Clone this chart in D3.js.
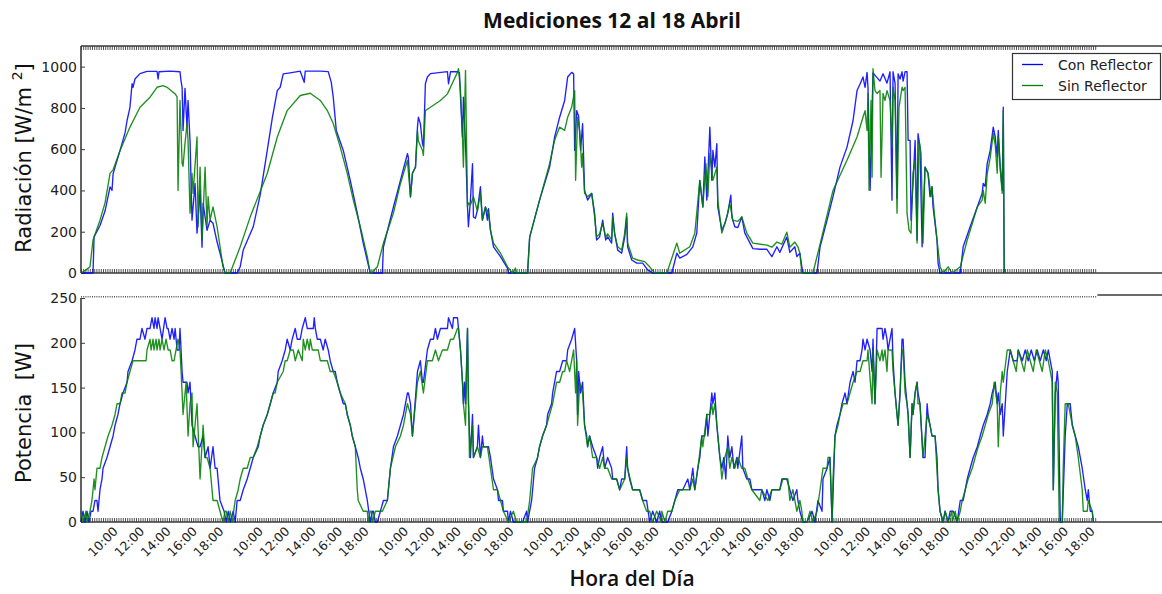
<!DOCTYPE html>
<html><head><meta charset="utf-8">
<script src="https://cdn.jsdelivr.net/npm/d3@7"></script>
<style>body{margin:0;background:#fff;}svg{display:block;}</style>
</head><body>
<svg id="c" width="1162" height="594"></svg>
<script>
const chartTitle = "Mediciones 12 al 18 Abril";
const seriesNames = ["Con Reflector", "Sin Reflector"];
const xTitle = "Hora del Día";
const dayStartHour = 7.33;      // first sample of each day (local hour)
const dayLengthHours = 11;      // plotted hours per day
const nDays = 7;
const tickHours = [10, 12, 14, 16, 18];
const tickLabels = ["10:00", "12:00", "14:00", "16:00", "18:00"];
const radTicks = [0, 200, 400, 600, 800, 1000];
const potTicks = [0, 50, 100, 150, 200, 250];

// Radiación [W/m2] — [hora local, valor] por día
const radCon = [
 [[7.33,0],[8.24,0],[8.32,175],[8.77,230],[9.15,300],[9.53,417],[9.68,400],[9.76,480],[9.91,513],[10.29,594],[10.67,680],[10.82,739],[11.04,803],[11.20,917],[11.27,900],[11.42,940],[11.80,966],[12.33,977],[13.09,977],[13.17,940],[13.24,975],[14.08,978],[14.83,975],[14.91,930],[14.99,900],[15.06,690],[15.21,895],[15.36,707],[15.44,836],[15.59,642],[15.74,256],[15.97,434],[16.12,193],[16.35,400],[16.50,125],[16.58,338],[16.88,207],[17.11,256],[17.33,241],[17.64,150],[17.86,97],[18.24,0]],
 [[7.33,0],[8.16,0],[8.39,30],[8.62,111],[9.38,224],[9.91,380],[10.44,594],[10.82,750],[11.20,884],[11.42,900],[11.65,965],[12.18,970],[12.94,978],[13.24,924],[13.32,978],[14.46,978],[15.06,976],[15.29,924],[15.44,852],[15.67,691],[16.20,594],[16.73,449],[17.26,290],[17.71,145],[18.24,0]],
 [[7.33,0],[8.16,0],[8.24,126],[8.62,224],[9.00,320],[9.53,449],[10.06,578],[10.13,560],[10.29,369],[10.44,483],[10.67,513],[10.82,707],[10.89,755],[11.04,724],[11.20,627],[11.27,611],[11.42,917],[11.57,950],[11.80,966],[13.09,976],[13.17,917],[13.32,975],[13.85,976],[14.00,970],[14.08,852],[14.23,659],[14.30,852],[14.46,627],[14.61,320],[14.68,224],[14.83,353],[14.99,530],[15.06,272],[15.21,265],[15.36,305],[15.59,418],[15.74,256],[15.97,320],[16.12,256],[16.20,312],[16.35,208],[16.58,127],[17.11,79],[17.64,24],[17.71,0],[18.32,0]],
 [[7.33,0],[8.16,0],[8.32,174],[9.07,353],[9.83,513],[10.21,659],[10.59,755],[10.97,836],[11.20,950],[11.50,972],[11.65,965],[11.73,594],[11.88,787],[12.03,760],[12.18,594],[12.33,724],[12.48,400],[12.71,353],[13.02,386],[13.24,290],[13.39,160],[13.62,175],[13.85,256],[14.08,160],[14.23,175],[14.53,145],[14.61,290],[14.76,190],[14.99,111],[15.29,96],[15.52,174],[15.67,272],[15.74,127],[16.05,63],[16.43,48],[16.88,48],[17.26,15],[17.64,0],[18.32,0]],
 [[7.33,0],[8.09,0],[8.47,96],[8.69,72],[9.23,90],[9.68,127],[9.98,193],[10.21,449],[10.44,320],[10.59,562],[10.74,353],[10.97,707],[11.12,449],[11.20,594],[11.35,513],[11.50,627],[11.57,320],[11.88,208],[12.11,240],[12.33,290],[12.56,377],[12.64,270],[12.86,224],[13.09,220],[13.39,272],[13.62,193],[14.23,118],[14.76,115],[15.29,115],[15.67,79],[16.05,127],[16.27,100],[16.80,174],[17.03,100],[17.41,127],[17.56,80],[17.79,96],[17.94,30],[18.02,0],[18.32,0]],
 [[7.33,0],[8.09,0],[8.32,127],[8.85,256],[9.30,370],[9.83,513],[10.36,610],[10.82,739],[11.12,884],[11.35,916],[11.57,950],[11.73,900],[11.88,972],[11.95,900],[12.11,401],[12.33,970],[12.86,930],[13.09,965],[13.39,920],[13.62,975],[13.77,353],[13.85,975],[14.00,920],[14.15,362],[14.23,965],[14.38,940],[14.53,975],[14.61,930],[14.76,975],[14.91,975],[14.99,643],[15.14,643],[15.21,256],[15.36,434],[15.52,643],[15.67,160],[15.74,675],[15.89,610],[16.05,127],[16.27,513],[16.50,483],[16.65,370],[16.80,418],[16.88,320],[17.18,160],[17.26,48],[17.41,0],[18.32,0]],
 [[7.33,0],[7.94,0],[8.16,127],[8.69,224],[9.23,320],[9.60,386],[9.68,434],[9.83,420],[9.98,530],[10.21,594],[10.44,707],[10.59,659],[10.74,562],[10.82,691],[10.97,513],[11.12,401],[11.20,803],[11.27,0]]
];
const radSin = [
 [[7.33,0],[7.71,15],[8.01,30],[8.24,160],[8.77,256],[9.15,340],[9.53,483],[9.76,500],[10.29,594],[11.04,707],[11.80,803],[12.56,852],[13.09,900],[13.55,908],[13.85,900],[14.23,880],[14.46,868],[14.61,853],[14.68,400],[14.83,836],[14.99,531],[15.06,517],[15.21,628],[15.36,724],[15.44,642],[15.59,290],[15.74,483],[15.82,386],[16.12,659],[16.20,224],[16.35,513],[16.50,160],[16.73,513],[16.88,224],[16.96,370],[17.11,256],[17.33,320],[17.64,224],[18.09,30],[18.24,0]],
 [[7.33,0],[7.63,0],[8.39,127],[9.15,272],[10.44,482],[11.20,659],[11.95,787],[12.94,860],[13.70,871],[14.46,836],[14.99,787],[15.44,724],[15.97,610],[16.50,483],[16.96,353],[17.49,224],[18.02,79],[18.24,0]],
 [[7.33,0],[7.78,30],[8.24,145],[9.00,290],[9.53,434],[10.06,546],[10.29,369],[10.44,483],[10.67,513],[10.82,691],[10.89,640],[11.20,594],[11.27,570],[11.42,787],[11.80,803],[12.56,836],[13.09,868],[13.55,932],[13.85,972],[13.93,990],[14.08,884],[14.23,659],[14.30,513],[14.46,982],[14.61,320],[14.68,340],[14.83,330],[15.06,370],[15.36,300],[15.59,386],[15.74,256],[15.97,320],[16.20,290],[16.35,208],[16.58,145],[17.11,96],[17.64,30],[18.02,0],[18.24,24],[18.32,0]],
 [[7.33,0],[8.16,0],[8.32,174],[9.07,353],[9.83,530],[10.21,643],[10.59,707],[10.97,691],[11.20,755],[11.50,803],[11.73,884],[11.80,449],[11.95,755],[12.11,690],[12.26,513],[12.33,580],[12.48,386],[12.71,370],[13.02,386],[13.24,272],[13.39,174],[13.62,190],[13.85,240],[14.08,174],[14.23,190],[14.53,160],[14.61,272],[14.76,190],[14.99,127],[15.29,111],[15.52,193],[15.67,290],[15.74,145],[16.12,72],[16.50,63],[17.03,55],[17.41,30],[17.79,0],[18.32,0]],
 [[7.33,0],[7.71,0],[8.47,145],[8.69,96],[9.45,127],[9.83,193],[10.21,449],[10.44,320],[10.67,530],[10.82,370],[10.97,578],[11.20,449],[11.50,513],[11.57,353],[11.88,193],[12.26,272],[12.48,338],[12.71,256],[13.09,250],[13.39,272],[13.77,193],[14.23,145],[15.29,135],[15.67,125],[16.05,150],[16.43,140],[16.80,198],[17.03,125],[17.41,150],[17.64,127],[17.79,96],[17.94,0],[18.32,0]],
 [[7.33,0],[7.78,0],[8.32,140],[9.30,400],[10.36,546],[11.12,659],[11.57,755],[11.73,787],[11.88,691],[11.95,870],[12.03,401],[12.18,836],[12.26,464],[12.33,990],[12.48,884],[12.64,870],[12.86,884],[12.94,464],[13.09,870],[13.24,836],[13.39,884],[13.62,836],[13.77,610],[13.85,900],[14.00,836],[14.15,290],[14.30,803],[14.53,900],[14.61,884],[14.76,900],[14.91,290],[15.06,208],[15.21,193],[15.36,483],[15.52,546],[15.67,145],[15.82,643],[15.97,580],[16.12,145],[16.27,513],[16.50,483],[16.73,370],[16.80,418],[16.96,300],[17.18,160],[17.41,30],[17.64,0],[18.02,30],[18.32,0]],
 [[7.33,0],[7.94,30],[8.47,160],[9.23,320],[9.60,353],[9.68,400],[9.83,338],[9.98,480],[10.21,560],[10.44,675],[10.59,620],[10.74,483],[10.82,660],[10.97,500],[11.12,386],[11.20,787],[11.27,0]]
];

// Potencia [W] — [hora local, valor] por día
const potCon = [
 [[7.33,0],[7.48,12],[7.63,0],[7.78,12],[7.94,0],[8.09,12],[8.24,12],[8.39,24],[8.54,24],[8.62,12],[8.77,36],[8.92,48],[9.00,60],[9.30,72],[9.53,84],[9.76,96],[9.91,108],[10.13,120],[10.29,132],[10.51,144],[10.82,156],[10.89,168],[11.20,180],[11.42,192],[11.57,204],[11.80,204],[11.95,216],[12.18,204],[12.33,216],[12.56,216],[12.71,228],[12.86,216],[12.94,228],[13.09,216],[13.17,228],[13.32,216],[13.47,204],[13.70,228],[13.85,216],[13.93,216],[14.08,204],[14.23,216],[14.38,204],[14.46,216],[14.61,192],[14.76,192],[14.83,216],[14.99,168],[15.06,156],[15.21,156],[15.36,156],[15.44,144],[15.59,156],[15.74,108],[15.97,96],[16.20,84],[16.35,84],[16.58,96],[16.73,72],[16.96,84],[17.11,60],[17.33,84],[17.49,60],[17.64,60],[17.86,24],[18.17,12]],
 [[7.33,0],[7.48,12],[7.63,0],[7.86,12],[8.01,0],[8.16,24],[8.39,24],[8.62,36],[8.92,48],[9.15,60],[9.38,72],[9.76,84],[9.91,96],[10.13,108],[10.44,120],[10.67,132],[10.89,144],[11.20,156],[11.27,168],[11.57,180],[11.80,192],[11.95,204],[12.18,192],[12.33,204],[12.56,216],[12.71,204],[12.94,204],[13.09,216],[13.32,228],[13.47,216],[13.70,216],[13.93,216],[14.00,228],[14.08,216],[14.23,204],[14.46,204],[14.68,192],[14.83,204],[15.06,192],[15.21,180],[15.44,168],[15.59,168],[15.74,156],[15.97,144],[16.20,132],[16.35,132],[16.50,120],[16.73,108],[16.88,96],[17.11,84],[17.33,72],[17.49,60],[17.71,48],[18.02,24],[18.24,0]],
 [[7.41,12],[7.48,12],[7.63,0],[7.78,0],[8.01,12],[8.24,24],[8.54,24],[8.77,60],[9.00,84],[9.30,96],[9.53,108],[9.76,120],[10.06,144],[10.13,144],[10.29,132],[10.44,96],[10.51,108],[10.82,168],[11.04,180],[11.20,156],[11.27,156],[11.57,192],[11.80,204],[12.03,204],[12.18,216],[12.33,204],[12.56,216],[13.09,216],[13.17,228],[13.47,216],[13.55,228],[13.85,228],[13.93,216],[14.08,192],[14.23,156],[14.30,132],[14.38,156],[14.46,132],[14.61,216],[14.68,132],[14.83,72],[14.99,120],[15.06,72],[15.36,84],[15.44,108],[15.59,72],[15.74,96],[15.82,84],[16.20,84],[16.35,72],[16.58,48],[16.88,36],[16.96,24],[17.26,24],[17.33,12],[17.64,12],[17.71,0],[17.86,12],[18.09,0],[18.32,0]],
 [[7.33,0],[7.78,0],[8.09,12],[8.16,0],[8.47,24],[8.69,60],[8.92,72],[9.07,84],[9.30,96],[9.60,108],[9.68,120],[9.98,132],[10.06,144],[10.21,156],[10.36,168],[10.59,168],[10.82,180],[11.12,180],[11.20,192],[11.50,204],[11.73,216],[11.88,180],[11.95,120],[12.03,168],[12.18,144],[12.33,156],[12.48,108],[12.64,96],[12.71,84],[12.86,96],[13.09,84],[13.39,72],[13.47,60],[13.62,72],[13.85,84],[14.00,60],[14.23,72],[14.53,60],[14.61,48],[14.91,48],[15.14,36],[15.29,48],[15.52,48],[15.67,84],[15.74,60],[15.89,48],[16.12,36],[16.65,36],[16.88,24],[17.18,24],[17.41,0],[17.64,12],[17.94,0],[18.17,12]],
 [[7.33,0],[7.56,0],[7.78,0],[8.09,12],[8.32,24],[8.54,36],[8.92,36],[9.30,48],[9.45,36],[9.68,60],[9.83,36],[10.06,60],[10.21,72],[10.36,96],[10.59,96],[10.74,120],[10.82,96],[10.97,120],[11.12,144],[11.20,132],[11.35,144],[11.50,108],[11.73,72],[11.88,60],[12.03,72],[12.18,48],[12.33,96],[12.48,72],[12.64,84],[12.79,60],[13.02,72],[13.09,60],[13.39,96],[13.47,60],[13.77,48],[14.00,48],[14.15,36],[14.53,36],[14.91,36],[15.14,24],[15.29,36],[15.52,24],[15.67,36],[15.89,36],[16.27,36],[16.43,48],[16.80,48],[17.03,36],[17.26,24],[17.56,36],[17.64,24],[17.79,12],[18.02,0],[18.32,0]],
 [[7.33,0],[7.71,12],[7.94,0],[8.16,24],[8.47,12],[8.54,48],[8.85,60],[9.07,72],[9.23,0],[9.45,96],[9.60,108],[9.83,120],[9.98,132],[10.21,144],[10.36,132],[10.59,156],[10.82,168],[10.97,156],[11.12,180],[11.35,180],[11.50,192],[11.57,204],[11.73,192],[11.88,204],[12.11,192],[12.26,168],[12.33,204],[12.48,132],[12.64,216],[12.86,216],[13.02,216],[13.09,204],[13.24,216],[13.39,204],[13.47,192],[13.62,204],[13.77,216],[13.85,180],[14.00,144],[14.15,120],[14.23,108],[14.38,144],[14.53,204],[14.61,204],[14.76,156],[14.91,132],[14.99,120],[15.14,72],[15.29,132],[15.36,120],[15.52,144],[15.67,156],[15.74,144],[15.89,132],[16.12,72],[16.27,72],[16.43,132],[16.50,120],[16.65,108],[16.80,96],[17.03,96],[17.18,72],[17.26,36],[17.41,12],[17.64,0],[17.79,12],[18.02,0],[18.17,12]],
 [[7.33,12],[7.41,12],[7.71,0],[7.94,24],[8.16,24],[8.32,36],[8.47,48],[8.69,60],[8.92,72],[9.23,84],[9.45,96],[9.68,108],[9.98,120],[10.21,132],[10.36,144],[10.59,156],[10.74,132],[10.82,144],[10.97,120],[11.12,132],[11.20,96],[11.35,132],[11.50,168],[11.73,192],[11.95,180],[12.26,180],[12.33,192],[12.64,180],[12.86,192],[13.09,180],[13.32,192],[13.55,180],[13.77,192],[14.00,180],[14.23,192],[14.46,180],[14.61,192],[14.76,180],[14.91,168],[14.99,36],[15.14,144],[15.29,168],[15.36,156],[15.52,0],[15.67,0],[15.89,96],[16.05,132],[16.27,132],[16.43,108],[16.65,96],[16.88,84],[17.18,60],[17.41,36],[17.56,24],[17.64,36],[17.79,12],[17.94,12],[18.02,0]]
];
const potSin = [
 [[7.33,12],[7.48,0],[7.71,12],[7.78,0],[8.01,12],[8.16,24],[8.32,48],[8.39,36],[8.54,60],[8.77,60],[8.92,72],[9.15,84],[9.38,96],[9.68,108],[9.91,120],[10.06,132],[10.29,132],[10.44,144],[10.67,144],[10.82,156],[11.04,168],[11.27,180],[11.80,180],[12.26,180],[12.33,192],[12.56,204],[12.64,192],[12.79,204],[12.86,192],[13.02,204],[13.09,192],[13.24,204],[13.32,192],[13.47,204],[13.62,192],[13.77,204],[13.93,192],[14.08,192],[14.23,180],[14.38,180],[14.53,192],[14.68,204],[14.83,192],[14.99,144],[15.06,120],[15.29,156],[15.44,96],[15.59,132],[15.74,144],[15.82,84],[15.97,108],[16.12,132],[16.35,48],[16.58,108],[16.73,72],[16.88,72],[17.11,60],[17.33,24],[17.64,24],[17.86,12],[18.09,0],[18.24,12]],
 [[7.33,12],[7.48,0],[7.63,12],[7.78,0],[8.01,24],[8.24,36],[8.39,48],[8.62,60],[8.92,60],[9.15,72],[9.38,72],[9.68,84],[9.91,96],[10.13,108],[10.44,120],[10.67,132],[10.89,144],[11.04,144],[11.20,156],[11.65,168],[11.80,180],[11.95,180],[12.18,192],[12.41,192],[12.56,180],[12.79,192],[13.09,180],[13.17,204],[13.32,192],[13.47,204],[13.62,192],[13.70,204],[13.85,192],[14.08,192],[14.30,192],[14.46,180],[14.68,180],[14.99,180],[15.21,168],[15.44,168],[15.74,156],[15.97,144],[16.35,132],[16.50,120],[16.73,108],[16.88,96],[17.11,84],[17.26,36],[17.33,24],[17.71,12],[18.02,12],[18.09,0],[18.24,12]],
 [[7.33,12],[7.41,0],[7.63,12],[7.86,12],[8.16,12],[8.54,24],[8.77,60],[9.15,84],[9.53,96],[9.76,108],[10.06,132],[10.29,120],[10.44,96],[10.51,108],[10.82,156],[11.04,168],[11.27,144],[11.57,180],[11.65,180],[11.95,180],[12.18,192],[12.41,180],[12.71,192],[13.09,192],[13.32,204],[13.55,204],[13.85,216],[13.93,216],[14.08,192],[14.23,156],[14.30,132],[14.46,108],[14.61,216],[14.68,144],[14.76,72],[14.99,108],[15.06,72],[15.36,84],[15.59,72],[15.74,84],[16.12,84],[16.35,60],[16.58,36],[16.88,36],[17.11,24],[17.33,12],[17.71,0],[18.09,12],[18.32,0]],
 [[7.33,0],[8.09,0],[8.32,24],[8.54,60],[8.92,72],[9.07,84],[9.30,96],[9.60,108],[9.83,120],[10.06,132],[10.21,144],[10.36,156],[10.59,156],[10.82,168],[10.97,168],[11.12,180],[11.35,168],[11.50,180],[11.65,192],[11.80,144],[11.88,180],[11.95,108],[12.11,156],[12.33,144],[12.48,108],[12.71,84],[12.86,96],[13.09,72],[13.39,72],[13.62,60],[13.85,72],[14.00,60],[14.23,60],[14.53,48],[14.91,48],[15.14,36],[15.52,48],[15.67,72],[15.74,60],[16.12,36],[16.65,36],[16.88,24],[17.18,12],[17.41,12],[17.64,0],[17.94,12],[18.32,0]],
 [[7.33,12],[7.56,0],[7.78,12],[8.09,12],[8.32,24],[8.69,36],[9.07,36],[9.45,36],[9.68,48],[9.83,36],[10.06,60],[10.36,96],[10.44,84],[10.74,120],[10.97,120],[11.12,132],[11.20,120],[11.35,132],[11.50,108],[11.73,72],[11.88,48],[12.11,72],[12.33,84],[12.48,60],[12.64,72],[12.86,60],[13.09,72],[13.39,60],[13.62,60],[13.85,48],[14.15,36],[14.76,24],[14.91,36],[15.36,24],[15.67,36],[16.27,36],[16.50,48],[16.88,48],[17.03,24],[17.26,36],[17.56,12],[17.79,24],[17.94,12],[18.02,0],[18.32,0]],
 [[7.33,0],[7.56,12],[7.78,0],[8.09,12],[8.32,36],[8.54,60],[8.85,60],[8.92,72],[9.07,72],[9.23,0],[9.30,48],[9.45,96],[9.68,108],[9.83,120],[10.06,132],[10.36,132],[10.59,144],[10.82,156],[11.12,168],[11.35,168],[11.57,180],[11.88,180],[11.95,192],[12.11,160],[12.26,132],[12.33,192],[12.48,132],[12.64,192],[12.86,180],[13.02,192],[13.09,180],[13.24,192],[13.39,168],[13.47,192],[13.77,192],[13.85,168],[14.00,144],[14.15,120],[14.23,108],[14.38,144],[14.53,192],[14.61,192],[14.76,144],[14.91,132],[14.99,120],[15.14,72],[15.29,132],[15.36,120],[15.52,144],[15.67,156],[15.74,132],[15.89,132],[16.12,72],[16.43,120],[16.65,108],[16.80,96],[17.03,96],[17.26,36],[17.41,12],[17.64,0],[17.79,12],[18.02,0],[18.32,12]],
 [[7.33,0],[7.56,12],[7.71,0],[7.94,12],[8.09,24],[8.32,36],[8.54,48],[8.85,60],[9.07,72],[9.30,84],[9.60,96],[9.83,108],[10.06,120],[10.36,132],[10.51,156],[10.74,132],[10.82,84],[10.97,144],[11.12,168],[11.20,156],[11.50,192],[11.73,192],[11.95,180],[12.18,168],[12.33,192],[12.56,180],[12.79,168],[13.02,192],[13.24,180],[13.47,168],[13.70,192],[13.93,180],[14.15,168],[14.38,192],[14.61,180],[14.76,168],[14.91,156],[14.99,36],[15.14,156],[15.29,144],[15.44,0],[15.67,0],[15.74,60],[15.89,132],[16.12,132],[16.43,108],[16.65,96],[16.88,72],[17.18,36],[17.26,12],[17.56,12],[17.64,24],[17.94,12],[18.02,0]]
];

const colors = ["#0000ff", "#008000"];

// flatten days onto a continuous plotted-time axis (hours)
function flatten(days) {
  const out = [];
  days.forEach((pts, d) => pts.forEach(([h, v]) => out.push({t: d * dayLengthHours + (h - dayStartHour), v})));
  return out;
}

const svg = d3.select("#c");
const L = 81, R = 1162;
const topP = {top: 46, bottom: 273};
const botP = {top: 298, bottom: 522};
const totalHours = nDays * dayLengthHours;
const x = d3.scaleLinear().domain([0, totalHours]).range([L, L + totalHours * 13.2]);
const yRad = d3.scaleLinear().domain([0, 1100]).range([topP.bottom, topP.top]);
const yPot = d3.scaleLinear().domain([0, 250]).range([botP.bottom, botP.top]);

const axisColor = "#3a3a3a";
const tickFont = "DejaVu Sans, sans-serif";

// dense sample ticks (one per 10 min sample)
const denseTicks = d3.range(0, totalHours - 0.1, 1 / 6);

function denseAxis(gen, y, size) {
  const g = svg.append("g").attr("transform", `translate(0,${y})`)
    .call(gen(x).tickValues(denseTicks).tickSize(size).tickFormat(""));
  g.select(".domain").remove();
  g.selectAll("line").attr("stroke", "#555").attr("stroke-width", 1);
  return g;
}
// top panel
denseAxis(d3.axisBottom, topP.bottom, -4);
denseAxis(d3.axisTop, topP.top, -4);
// bottom panel
denseAxis(d3.axisBottom, botP.bottom, -4);
denseAxis(d3.axisTop, botP.top, 1.5).attr("transform", `translate(0,${botP.top - 0.5})`);

// spines
const sp = svg.append("g").attr("stroke", axisColor).attr("stroke-width", 1.6).attr("fill", "none");
sp.append("line").attr("x1", L).attr("x2", R).attr("y1", topP.top).attr("y2", topP.top);
sp.append("line").attr("x1", L).attr("x2", R).attr("y1", topP.bottom).attr("y2", topP.bottom);
sp.append("line").attr("x1", L).attr("x2", L).attr("y1", topP.top).attr("y2", topP.bottom);
sp.append("line").attr("x1", L).attr("x2", R).attr("y1", botP.bottom).attr("y2", botP.bottom);
sp.append("line").attr("x1", L).attr("x2", L).attr("y1", botP.top).attr("y2", botP.bottom);
sp.append("line").attr("x1", x(totalHours)).attr("x2", R).attr("y1", botP.top - 3).attr("y2", botP.top - 3);

// y axes
function yAxis(scale, ticks) {
  const g = svg.append("g").attr("transform", `translate(${L},0)`)
    .call(d3.axisLeft(scale).tickValues(ticks).tickSize(-4).tickPadding(4).tickFormat(d3.format("d")));
  g.select(".domain").remove();
  g.selectAll("line").attr("stroke", axisColor);
  g.selectAll("text").attr("font-family", tickFont).attr("font-size", 14).attr("fill", "#222");
}
yAxis(yRad, radTicks);
yAxis(yPot, potTicks);

// x tick labels
const labelTicks = [];
for (let d = 0; d < nDays; d++) tickHours.forEach((h, i) => labelTicks.push({t: d * dayLengthHours + h - dayStartHour, label: tickLabels[i]}));
const xg = svg.append("g").attr("transform", `translate(0,${botP.bottom})`)
  .call(d3.axisBottom(x).tickValues(labelTicks.map(d => d.t)).tickSize(0).tickFormat((d, i) => labelTicks[i].label));
xg.select(".domain").remove();
xg.selectAll("text")
  .attr("font-family", tickFont).attr("font-size", 12.5).attr("fill", "#222")
  .attr("text-anchor", "end").attr("dy", 0).attr("y", 0)
  .attr("transform", "translate(2,10) rotate(-45)");

// lines
const line = d3.line().x(d => x(d.t));
function drawLines(con, sin, y) {
  [con, sin].forEach((s, i) => {
    svg.append("path").datum(flatten(s))
      .attr("d", line.y(d => y(d.v)))
      .attr("fill", "none").attr("stroke", colors[i]).attr("stroke-width", 1.35)
      .attr("stroke-linejoin", "round").attr("opacity", 0.88);
  });
}
drawLines(radCon, radSin, yRad);
drawLines(potCon, potSin, yPot);

// legend
const lg = svg.append("g");
lg.append("rect").attr("x", 1012.5).attr("y", 53.5).attr("width", 148).attr("height", 46)
  .attr("fill", "#fff").attr("stroke", "#333").attr("stroke-width", 1.2);
seriesNames.forEach((n, i) => {
  const yy = 64.5 + i * 21;
  lg.append("line").attr("x1", 1022).attr("x2", 1043).attr("y1", yy).attr("y2", yy).attr("stroke", colors[i]).attr("stroke-width", 1.3);
  lg.append("text").attr("x", 1058).attr("y", yy + 5).text(n)
    .attr("font-family", tickFont).attr("font-size", 14).attr("fill", "#222");
});

// titles
svg.append("text").attr("x", 612).attr("y", 28).attr("text-anchor", "middle")
  .attr("font-family", "Open Sans, sans-serif").attr("font-weight", "bold").attr("font-size", 21).attr("fill", "#111")
  .text(chartTitle);
svg.append("text").attr("x", 632).attr("y", 586).attr("text-anchor", "middle")
  .attr("font-family", "Open Sans, sans-serif").attr("font-weight", 600).attr("font-size", 21).attr("fill", "#111")
  .text(xTitle);

const yl1 = svg.append("text").attr("transform", "translate(31,158) rotate(-90)").attr("text-anchor", "middle")
  .attr("font-family", tickFont).attr("font-size", 21).attr("fill", "#111");
yl1.append("tspan").text("Radiación [W/m ");
yl1.append("tspan").attr("font-size", 14).attr("dy", -9).text("2");
yl1.append("tspan").attr("dy", 9).text("]");
svg.append("text").attr("transform", "translate(31,413) rotate(-90)").attr("text-anchor", "middle")
  .attr("font-family", tickFont).attr("font-size", 21).attr("fill", "#111")
  .attr("xml:space", "preserve").style("white-space", "pre")
  .text("Potencia  [W]");
</script>
</body></html>
